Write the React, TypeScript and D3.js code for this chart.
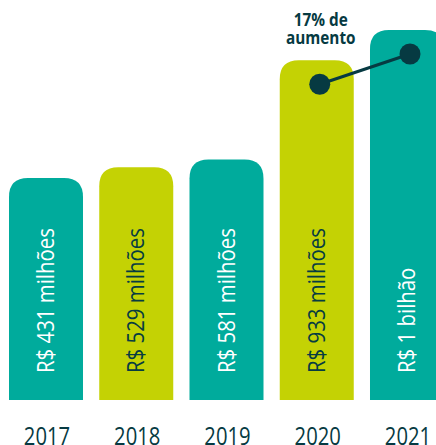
import React from "react";
import * as d3 from "d3";

// chart data
const years = ["2017", "2018", "2019", "2020", "2021"];
const revenue = [431, 529, 581, 933, 1000]; // R$ milhões
const valueLabels = [
  "R$ 431 milhões",
  "R$ 529 milhões",
  "R$ 581 milhões",
  "R$ 933 milhões",
  "R$ 1 bilhão",
];
const barColors = ["teal", "lime", "teal", "lime", "teal"];
const growthFrom = "2020";
const growthTo = "2021";
const growthNote = ["17% de", "aumento"];

const W = 436;
const H = 445;
const baseY = 400;
const squeeze = 0.85; // reference uses a condensed face

const palette: Record<string, { fill: string; text: string }> = {
  teal: { fill: "#00ab9c", text: "#ffffff" },
  lime: { fill: "#c4d204", text: "#063c42" },
};
const dark = "#063a42";
const font = "'Open Sans', 'Noto Sans', sans-serif";

// rounded top, square bottom
function barPath(x: number, y: number, w: number, h: number, r: number) {
  const rr = Math.min(r, w / 2, h);
  return `M${x},${y + h}V${y + rr}Q${x},${y} ${x + rr},${y}H${x + w - rr}Q${x + w},${y} ${x + w},${y + rr}V${y + h}Z`;
}

export default function App() {
  const x = d3.scaleBand().domain(years).range([9, 444]).paddingInner(0.18);
  // the original bars are not drawn to a linear scale; a cubic one follows them closely
  const y = d3.scalePow().exponent(3).domain([-1091, 1000]).range([baseY, 30]);
  const bw = x.bandwidth();

  const dotOf = (yr: string) => {
    const i = years.indexOf(yr);
    return { cx: (x(yr) as number) + bw / 2 + 3, cy: y(revenue[i]) + 24 };
  };
  const a = dotOf(growthFrom);
  const b = dotOf(growthTo);

  return (
    <svg
      width={W}
      height={H}
      style={{ position: "absolute", left: 0, top: 0, background: "#fff" }}
    >
      {years.map((yr, i) => {
        const bx = x(yr) as number;
        const cx = bx + bw / 2;
        const top = y(revenue[i]);
        const c = palette[barColors[i]];
        return (
          <g key={yr}>
            <path d={barPath(bx, top, bw, baseY - top, 19)} fill={c.fill} />
            <text
              transform={`translate(${cx + 8},373) rotate(-90) scale(${squeeze},1)`}
              fontFamily={font}
              fontSize={24}
              fill={c.text}
            >
              {valueLabels[i]}
            </text>
            <text
              transform={`translate(${cx + 1},445) scale(0.81,1)`}
              textAnchor="middle"
              fontFamily={font}
              fontSize={25}
              fontWeight={500}
              fill={dark}
            >
              {yr}
            </text>
          </g>
        );
      })}

      <line x1={a.cx} y1={a.cy} x2={b.cx} y2={b.cy} stroke={dark} strokeWidth={3} />
      <circle cx={a.cx} cy={a.cy} r={10.5} fill={dark} />
      <circle cx={b.cx} cy={b.cy} r={10.5} fill={dark} />

      {growthNote.map((t, i) => (
        <text
          key={t}
          transform={`translate(${(x(growthFrom) as number) + bw / 2 + 4},${26 + i * 18}) scale(${squeeze},1)`}
          textAnchor="middle"
          fontFamily={font}
          fontWeight="bold"
          fontSize={18}
          fill={dark}
        >
          {t}
        </text>
      ))}
    </svg>
  );
}
